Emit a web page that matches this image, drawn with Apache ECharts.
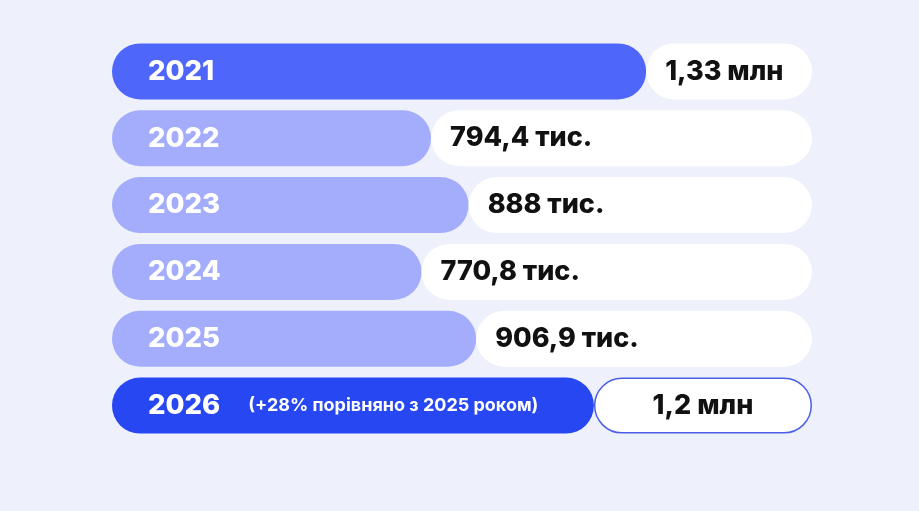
<!DOCTYPE html>
<html><head><meta charset="utf-8">
<script src="https://cdn.jsdelivr.net/npm/echarts@6/dist/echarts.min.js"></script>
<style>html,body{margin:0;padding:0;background:#eef1fb;}#c{width:919px;height:511px;}</style>
</head><body><div id="c"></div>
<script>
// data (thousand visitors)
const years = ['2021', '2022', '2023', '2024', '2025', '2026'];
const visitors = [1330, 794.4, 888, 770.8, 906.9, 1200];
const valueLabels = ['1,33 млн', '794,4 тис.', '888 тис.', '770,8 тис.', '906,9 тис.', '1,2 млн'];
const note2026 = '(+28% порівняно з 2025 роком)';

const scaleMax = 1743; // full track length on the value axis
const track = visitors.map(v => scaleMax - v);

const FONT = 'Inter, "Noto Sans", sans-serif';
const chart = echarts.init(document.getElementById('c'), null, {renderer: 'canvas'});
chart.setOption({
  backgroundColor: '#eef1fb',
  animation: false,
  grid: {left: 112, right: 107, top: 38, bottom: 72},
  xAxis: {type: 'value', min: 0, max: scaleMax, show: false},
  yAxis: {type: 'category', data: years, inverse: true, show: false},
  series: [
    {
      type: 'bar', stack: 'a', barWidth: 56, data: visitors,
      itemStyle: {
        borderRadius: 28,
        color: p => p.dataIndex === 0 ? '#4e66f9' : (p.dataIndex === 5 ? '#2747f3' : '#a3adfb')
      },
      label: {
        show: true, position: 'insideLeft', distance: 36,
        formatter: p => p.dataIndex === 5 ? '{y|' + p.name + '}{n|' + note2026 + '}' : '{y|' + p.name + '}',
        rich: {
          y: {color: '#fff', fontFamily: FONT, fontWeight: 800, fontSize: 27.5},
          n: {color: '#fff', fontFamily: FONT, fontWeight: 700, fontSize: 18, padding: [0, 0, 0, 28]}
        }
      }
    },
    {
      type: 'bar', stack: 'a', barWidth: 56,
      data: track.map((v, i) => ({
        value: v,
        label: i === 5 ? {position: 'inside'} : {},
        itemStyle: i === 5 ? {borderColor: '#4a5fe6', borderWidth: 1.5} : {}
      })),
      itemStyle: {color: '#ffffff', borderRadius: 28},
      label: {
        show: true, position: 'insideLeft', distance: 19,
        formatter: p => valueLabels[p.dataIndex],
        color: '#111111', fontFamily: FONT, fontWeight: 800, fontSize: 27
      }
    }
  ]
});
</script>
</body></html>
